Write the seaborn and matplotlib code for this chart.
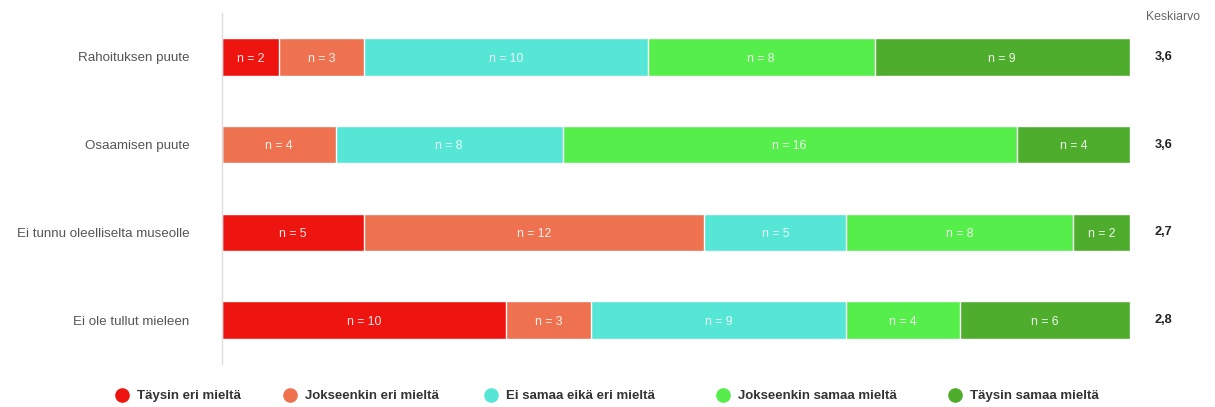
import matplotlib
matplotlib.use("Agg")
import matplotlib.pyplot as plt
from matplotlib.lines import Line2D
import seaborn as sns
import pandas as pd
import numpy as np

categories = ["Rahoituksen puute", "Osaamisen puute", "Ei tunnu oleelliselta museolle", "Ei ole tullut mieleen"]
responses = ["Täysin eri mieltä", "Jokseenkin eri mieltä", "Ei samaa eikä eri mieltä",
             "Jokseenkin samaa mieltä", "Täysin samaa mieltä"]
taysin_eri = [2, 0, 5, 10]
jokseenkin_eri = [3, 4, 12, 3]
ei_samaa = [10, 8, 5, 9]
jokseenkin_samaa = [8, 16, 8, 4]
taysin_samaa = [9, 4, 2, 6]
keskiarvo = ["3,6", "3,6", "2,7", "2,8"]
colors = ["#EE1410", "#EE7150", "#55E6D6", "#55EE4A", "#4EAD2C"]

sns.set_theme(style="white")
plt.rcParams["font.family"] = ["Liberation Sans", "DejaVu Sans"]

series = [taysin_eri, jokseenkin_eri, ei_samaa, jokseenkin_samaa, taysin_samaa]
counts = np.array(series)  # shape (5, 4)
cum = np.cumsum(counts, axis=0)

W, H = 1215, 407
fig = plt.figure(figsize=(W / 100, H / 100), dpi=100)
ax = fig.add_axes([222 / W, 1 - 364 / H, (1130 - 222) / W, (364 - 13) / H])

for i in range(len(responses) - 1, -1, -1):
    df = pd.DataFrame({"category": categories, "value": cum[i]})
    sns.barplot(data=df, y="category", x="value", orient="h", color=colors[i],
                width=0.43, edgecolor="white", linewidth=1.0, saturation=1, ax=ax)

for j, cat in enumerate(categories):
    for i in range(len(responses)):
        v = counts[i, j]
        if v > 0:
            start = cum[i, j] - v
            ax.text(start + v / 2, j + 0.02, f"n = {v}", ha="center", va="center",
                    color="white", fontsize=8.8, alpha=0.9)
    ax.text(1.037, j, keskiarvo[j], transform=ax.get_yaxis_transform(),
            ha="center", va="center", fontsize=9.2, fontweight="bold", color="#222222")

ax.text(1.047, -0.45, "Keskiarvo", transform=ax.get_yaxis_transform(),
        ha="center", va="center", fontsize=8.8, color="#666666")

total = cum[-1].max()
ax.set_xlim(0, total)
ax.set_ylim(3.5, -0.5)
ax.set_xlabel("")
ax.set_ylabel("")
ax.set_xticks([])
ax.tick_params(axis="y", length=0, pad=23.5, labelsize=9.6, labelcolor="#555555")
for s in ["top", "right", "bottom"]:
    ax.spines[s].set_visible(False)
ax.spines["left"].set_color("#DDDDDD")
ax.spines["left"].set_linewidth(1)

# legend: one entry per legend, placed at the reference marker positions
marker_x = [122, 290, 491, 723, 955]
fs = 9.5
fs_px = fs * 100 / 72
for c, lab, mx in zip(colors, responses, marker_x):
    h = Line2D([0], [0], marker="o", linestyle="", markersize=9.5,
               markerfacecolor=c, markeredgecolor=c)
    leg = fig.legend([h], [lab], loc="center left",
                     bbox_to_anchor=((mx - fs_px / 2) / W, 1 - 396 / H),
                     frameon=False, borderpad=0, borderaxespad=0,
                     handlelength=1.0, handletextpad=0.62,
                     prop={"weight": "bold", "size": fs})
    for t in leg.get_texts():
        t.set_color("#333333")

fig.savefig("out.png", dpi=100)
